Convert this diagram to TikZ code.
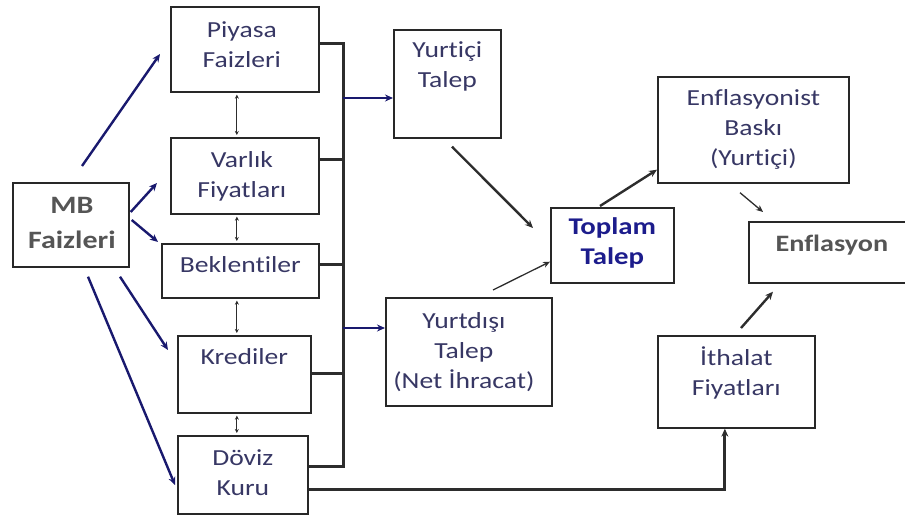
\documentclass[tikz,border=0pt]{standalone}
\usepackage{fontspec}
\setmainfont{Carlito}[FakeStretch=1.2,Ligatures=NoCommon]
\usetikzlibrary{arrows.meta,calc}
\definecolor{txtc}{RGB}{55,55,100}
\definecolor{tbold}{RGB}{28,28,140}
\definecolor{gbold}{RGB}{85,85,85}
\definecolor{boxc}{RGB}{40,40,40}
\definecolor{navy}{RGB}{25,25,110}
\definecolor{dgray}{RGB}{45,45,45}
\begin{document}
\begin{tikzpicture}[x=1pt,y=-1pt,
  box/.style={draw=boxc,line width=1.7pt,inner sep=0pt,anchor=north west},
  lab/.style={font=\fontsize{23}{30}\selectfont,text=txtc,align=center,inner sep=0pt},
  labb/.style={lab,font=\fontsize{24}{30}\selectfont\bfseries},
  bus/.style={draw=dgray,line width=3pt,line join=miter},
  barrow/.style={draw=navy,line width=2.4pt,-{Stealth[length=8pt,width=7pt]}},
  garrow/.style={draw=dgray,line width=2.4pt,-{Stealth[length=8pt,width=7pt]}},
  tarrow/.style={draw=dgray,line width=1.3pt,-{Stealth[length=7pt,width=6pt]}},
  dbl/.style={draw=dgray,line width=0.9pt,{Stealth[length=4pt,width=4pt]}-{Stealth[length=4pt,width=4pt]}}]
\useasboundingbox (0,0) rectangle (905,518);
\clip (0,0) rectangle (905,518);
% boxes
\node[box,minimum width=116pt,minimum height=84pt,label={[labb,text=gbold,font=\fontsize{25}{35}\selectfont\bfseries,xshift=1pt,yshift=2pt]center:MB\\Faizleri}] (mb) at (12,182) {};
\node[box,minimum width=148pt,minimum height=85pt,label={[lab,xshift=-3pt,yshift=4.5pt]center:Piyasa\\Faizleri}] (piy) at (170,6) {};
\node[box,minimum width=148pt,minimum height=76pt,label={[lab,xshift=-3pt,yshift=-1pt]center:Varlık\\Fiyatları}] (var) at (170,137) {};
\node[box,minimum width=157pt,minimum height=54pt,label={[lab,yshift=6.5pt]center:Beklentiler}] (bek) at (161,243) {};
\node[box,minimum width=133pt,minimum height=77pt,label={[lab,yshift=18pt]center:Krediler}] (kre) at (177,335) {};
\node[box,minimum width=130pt,minimum height=78pt,label={[lab,yshift=2.5pt]center:Döviz\\Kuru}] (dov) at (177,435) {};
\node[box,minimum width=107pt,minimum height=108pt,label={[lab,yshift=17pt]center:Yurtiçi\\Talep}] (yi) at (393,29) {};
\node[box,minimum width=166pt,minimum height=108pt,label={[lab,xshift=-5pt,yshift=0pt]center:Yurtdışı\\Talep\\(Net İhracat)}] (yd) at (385,297) {};
\node[box,minimum width=123pt,minimum height=75pt,label={[labb,text=tbold,yshift=2pt]center:Toplam\\Talep}] (top) at (550,207) {};
\node[box,minimum width=191pt,minimum height=106pt,label={[lab]center:Enflasyonist\\Baskı\\(Yurtiçi)}] (enb) at (657,76) {};
\node[box,minimum width=166pt,minimum height=61pt,label={[labb,text=gbold,font=\fontsize{23.5}{30}\selectfont\bfseries,yshift=7.5pt]center:Enflasyon}] (enf) at (748,221) {};
\node[box,minimum width=157pt,minimum height=92pt,label={[lab,yshift=8.5pt]center:İthalat\\Fiyatları}] (ith) at (657,335) {};
% bus
\coordinate (bt) at (343,44);
\coordinate (bv) at (343,160);
\coordinate (bbk) at (343,265);
\coordinate (bk) at (343,374);
\coordinate (bb) at (343,466);
\draw[bus] (piy.east |- bt) -- (bt) -- (bb) -- (dov.east |- bb);
\draw[bus] (var.east |- bv) -- (bv);
\draw[bus] (bek.east |- bbk) -- (bbk);
\draw[bus] (kre.east |- bk) -- (bk);
\coordinate (byi) at (343,98);
\coordinate (byd) at (343,328);
\draw[barrow] (byi) -- (yi.west |- byi);
\draw[barrow] (byd) -- (yd.west |- byd);
% MB arrows
\draw[barrow] ($(mb.north west)+(70,-16)$) -- ($(piy.north west)+(-10,48)$);
\draw[barrow] ($(mb.north east)+(1,30)$) -- ($(var.north west)+(-13,46)$);
\draw[barrow] ($(mb.north east)+(2,38)$) -- ($(bek.north west)+(-3,-1)$);
\draw[barrow] ($(mb.south west)+(108,9)$) -- ($(kre.north west)+(-9,15)$);
\draw[barrow] ($(mb.south west)+(76,9)$) -- ($(dov.north west)+(-2,50)$);
% double arrows
\draw[dbl] ($(piy.south)+(-8,2)$) -- ($(var.north)+(-8,-2)$);
\draw[dbl] ($(var.south)+(-8,2)$) -- ($(bek.north)+(-3.5,-2)$);
\draw[dbl] ($(bek.south)+(-3.5,2)$) -- ($(kre.north)+(-7.5,-2)$);
\draw[dbl] ($(kre.south)+(-7.5,2)$) -- ($(dov.north)+(-6,-2)$);
% right side
\draw[garrow] ($(yi.south west)+(59,8)$) -- ($(top.north west)+(-17,21)$);
\draw[tarrow] ($(yd.north west)+(108,-7)$) -- ($(top.south west)+(0,-22)$);
\draw[garrow] ($(top.north west)+(50,-1)$) -- ($(enb.south west)+(0,-14)$);
\draw[tarrow] ($(enb.south west)+(83,9)$) -- ($(enf.north west)+(15,-9)$);
\draw[garrow] ($(ith.north west)+(84,-7)$) -- ($(enf.south west)+(25,8)$);
\draw[bus,-{Stealth[length=8pt,width=7pt]}] ($(dov.south east)+(0,-25)$) -| ($(ith.south)+(-11.5,0)$);
\end{tikzpicture}
\end{document}
